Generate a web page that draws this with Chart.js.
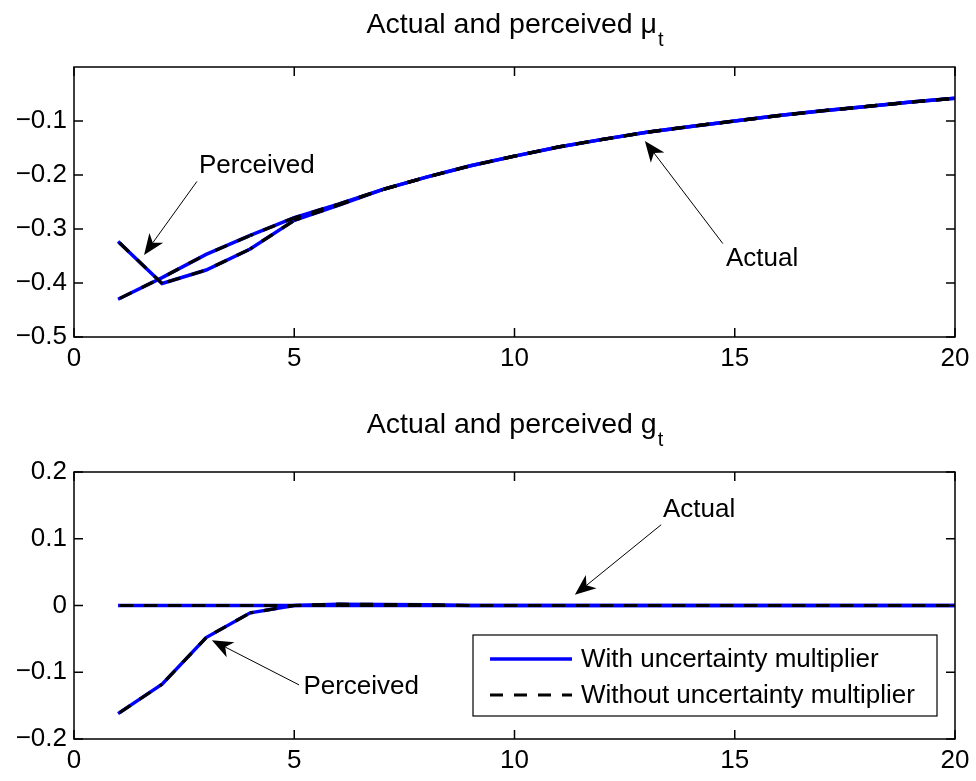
<!DOCTYPE html>
<html>
<head>
<meta charset="utf-8">
<script src="https://cdn.jsdelivr.net/npm/chart.js@4.4.0/dist/chart.umd.min.js"></script>
<style>
  body { margin: 0; background: #fff; }
  .panel { position: absolute; left: 0; width: 976px; }
</style>
</head>
<body>
<div class="panel" style="top:0;height:390px"><canvas id="muChart"></canvas></div>
<div class="panel" style="top:390px;height:391px"><canvas id="gChart"></canvas></div>
<script>
// periods on the x axis
const periods = [1, 2, 3, 4, 5, 6, 7, 8, 9, 10, 11, 12, 13, 14, 15, 16, 17, 18, 19, 20];

// mu_t, actual and perceived
const muActualWith = [-0.430, -0.390, -0.347, -0.312, -0.279, -0.254, -0.227, -0.204, -0.183, -0.165,
  -0.148, -0.134, -0.121, -0.110, -0.100, -0.090, -0.081, -0.073, -0.065, -0.058];
const muPerceivedWith = [-0.323, -0.401, -0.376, -0.337, -0.284, -0.256, -0.227, -0.204, -0.183, -0.165,
  -0.148, -0.134, -0.121, -0.110, -0.100, -0.090, -0.081, -0.073, -0.065, -0.058];
const muActualWithout = [-0.430, -0.390, -0.347, -0.312, -0.279, -0.254, -0.227, -0.204, -0.183, -0.165,
  -0.148, -0.134, -0.121, -0.110, -0.100, -0.090, -0.081, -0.073, -0.065, -0.058];
const muPerceivedWithout = [-0.323, -0.401, -0.376, -0.337, -0.284, -0.256, -0.227, -0.204, -0.183, -0.165,
  -0.148, -0.134, -0.121, -0.110, -0.100, -0.090, -0.081, -0.073, -0.065, -0.058];

// g_t, actual and perceived
const gActualWith = [0, 0, 0, 0, 0, 0, 0, 0, 0, 0, 0, 0, 0, 0, 0, 0, 0, 0, 0, 0];
const gPerceivedWith = [-0.162, -0.118, -0.048, -0.011, 0, 0.002, 0.0015, 0.001, 0, 0,
  0, 0, 0, 0, 0, 0, 0, 0, 0, 0];
const gActualWithout = [0, 0, 0, 0, 0, 0, 0, 0, 0, 0, 0, 0, 0, 0, 0, 0, 0, 0, 0, 0];
const gPerceivedWithout = [-0.162, -0.118, -0.048, -0.011, 0, 0.002, 0.0015, 0.001, 0, 0,
  0, 0, 0, 0, 0, 0, 0, 0, 0, 0];

const xTicks = [0, 5, 10, 15, 20];
const muTicks = [-0.5, -0.4, -0.3, -0.2, -0.1];
const gTicks = [-0.2, -0.1, 0, 0.1, 0.2];

const seriesNames = ['With uncertainty multiplier', 'Without uncertainty multiplier'];

const FONT = '"Liberation Sans", Arial, Helvetica, sans-serif';
const DASH = [13, 11];

function points(values) {
  return periods.map((p, i) => ({ x: p, y: values[i] }));
}

function fmt(v) {
  const r = Math.round(v * 10) / 10;
  if (r === 0) return '0';
  return (r < 0 ? '\u2212' : '') + Math.abs(r);
}

// box, inner ticks, title, arrows and legend in the matlab look
const frame = {
  id: 'frame',
  afterDraw(chart, args, opts) {
    const ctx = chart.ctx;
    const a = chart.chartArea;
    const xs = chart.scales.x, ys = chart.scales.y;
    ctx.save();
    ctx.strokeStyle = '#000';
    ctx.lineWidth = 1.5;
    ctx.strokeRect(a.left, a.top, a.right - a.left, a.bottom - a.top);
    const tl = 9;
    ctx.beginPath();
    xs.ticks.forEach(t => {
      const px = xs.getPixelForValue(t.value);
      ctx.moveTo(px, a.bottom); ctx.lineTo(px, a.bottom - tl);
      ctx.moveTo(px, a.top); ctx.lineTo(px, a.top + tl);
    });
    ys.ticks.forEach(t => {
      const py = ys.getPixelForValue(t.value);
      ctx.moveTo(a.left, py); ctx.lineTo(a.left + tl, py);
      ctx.moveTo(a.right, py); ctx.lineTo(a.right - tl, py);
    });
    ctx.stroke();

    // title with subscript
    ctx.fillStyle = '#000';
    ctx.textBaseline = 'alphabetic';
    ctx.font = '28.5px ' + FONT;
    const mainW = ctx.measureText(opts.title).width;
    ctx.font = '20px ' + FONT;
    const subW = ctx.measureText(opts.sub).width;
    const cx = (a.left + a.right) / 2;
    const base = a.top - opts.titleGap;
    let tx = cx - (mainW + subW) / 2;
    ctx.textAlign = 'left';
    ctx.font = '28.5px ' + FONT;
    ctx.fillText(opts.title, tx, base);
    ctx.font = '20px ' + FONT;
    ctx.fillText(opts.sub, tx + mainW + 1, base + 13);

    // annotation arrows
    ctx.font = '26px ' + FONT;
    ctx.textAlign = 'center';
    ctx.textBaseline = 'middle';
    opts.notes.forEach(n => {
      const x0 = xs.getPixelForValue(n.from[0]), y0 = ys.getPixelForValue(n.from[1]);
      const x1 = xs.getPixelForValue(n.to[0]), y1 = ys.getPixelForValue(n.to[1]);
      const ang = Math.atan2(y1 - y0, x1 - x0);
      const len = 21, hw = 8.5, notch = 15;
      ctx.lineWidth = 1;
      ctx.beginPath();
      ctx.moveTo(x0, y0);
      ctx.lineTo(x1 - Math.cos(ang) * notch, y1 - Math.sin(ang) * notch);
      ctx.stroke();
      const c = Math.cos(ang), s = Math.sin(ang);
      ctx.beginPath();
      ctx.moveTo(x1, y1);
      ctx.lineTo(x1 - c * len - s * hw, y1 - s * len + c * hw);
      ctx.lineTo(x1 - c * notch, y1 - s * notch);
      ctx.lineTo(x1 - c * len + s * hw, y1 - s * len - c * hw);
      ctx.closePath();
      ctx.fill();
      ctx.fillText(n.text, xs.getPixelForValue(n.at[0]), ys.getPixelForValue(n.at[1]));
    });

    // legend box in the lower right
    if (opts.legend) {
      const right = a.right - 18, bottom = a.bottom - 23;
      const left = right - 464, top = bottom - 81;
      ctx.fillStyle = '#fff';
      ctx.fillRect(left, top, right - left, bottom - top);
      ctx.lineWidth = 1.2;
      ctx.strokeStyle = '#000';
      ctx.strokeRect(left, top, right - left, bottom - top);
      ctx.textAlign = 'left';
      ctx.fillStyle = '#000';
      [0, 1].forEach(i => {
        const ds = chart.data.datasets[i];
        const ry = top + 24 + i * 36;
        ctx.save();
        ctx.strokeStyle = ds.borderColor;
        ctx.lineWidth = ds.borderWidth;
        ctx.setLineDash(ds.borderDash || []);
        ctx.beginPath();
        ctx.moveTo(left + 17, ry);
        ctx.lineTo(left + 99, ry);
        ctx.stroke();
        ctx.restore();
        ctx.fillText(ds.label, left + 108, ry + 1);
      });
    }
    ctx.restore();
  }
};

function buildChart(id, series, yMin, yMax, yTicks, padTop, xHeight, plugOpts) {
  const solid = { borderColor: '#0000ff', borderWidth: 3.5, pointRadius: 0, tension: 0, order: 2 };
  // dash phase tied to the x pixel so overlapping dashed lines stay in step
  const dashed = {
    borderColor: '#000000', borderWidth: 3.2, borderDash: DASH, pointRadius: 0, tension: 0, order: 1,
    segment: { borderDashOffset: c => c.p0.x % (DASH[0] + DASH[1]) },
  };
  return new Chart(document.getElementById(id), {
    type: 'line',
    data: {
      datasets: [
        { label: seriesNames[0], data: points(series[0]), ...solid },
        { label: seriesNames[1], data: points(series[2]), ...dashed },
        { label: seriesNames[0], data: points(series[1]), ...solid },
        { label: seriesNames[1], data: points(series[3]), ...dashed },
      ],
    },
    options: {
      responsive: true,
      maintainAspectRatio: false,
      animation: false,
      layout: { padding: { top: padTop, right: 21, left: 0, bottom: 0 } },
      plugins: { legend: { display: false }, tooltip: { enabled: false }, frame: plugOpts },
      scales: {
        x: {
          type: 'linear', min: 0, max: 20,
          afterBuildTicks: s => { s.ticks = xTicks.map(v => ({ value: v })); },
          afterFit: s => { s.height = xHeight; },
          grid: { display: false, drawTicks: false },
          border: { display: false },
          ticks: { color: '#000', font: { family: FONT, size: 26 }, padding: 6, maxRotation: 0 },
        },
        y: {
          min: yMin, max: yMax,
          afterBuildTicks: s => { s.ticks = yTicks.map(v => ({ value: v })); },
          afterFit: s => { s.width = 74; },
          grid: { display: false, drawTicks: false },
          border: { display: false },
          ticks: { color: '#000', font: { family: FONT, size: 26 }, padding: 7, callback: v => fmt(v) },
        },
      },
    },
    plugins: [frame],
  });
}

buildChart('muChart', [muActualWith, muPerceivedWith, muActualWithout, muPerceivedWithout],
  -0.5, 0, muTicks, 67, 53, {
    title: 'Actual and perceived \u03bc', sub: 't', titleGap: 34, legend: false,
    notes: [
      { text: 'Perceived', at: [4.15, -0.183], from: [2.79, -0.212], to: [1.59, -0.348] },
      { text: 'Actual', at: [15.62, -0.356], from: [14.73, -0.327], to: [12.96, -0.137] },
    ],
  });

buildChart('gChart', [gActualWith, gPerceivedWith, gActualWithout, gPerceivedWithout],
  -0.2, 0.2, gTicks, 82, 42, {
    title: 'Actual and perceived g', sub: 't', titleGap: 39, legend: true,
    notes: [
      { text: 'Actual', at: [14.19, 0.144], from: [13.33, 0.121], to: [11.37, 0.016] },
      { text: 'Perceived', at: [6.52, -0.122], from: [5.11, -0.119], to: [3.13, -0.052] },
    ],
  });
</script>
</body>
</html>
